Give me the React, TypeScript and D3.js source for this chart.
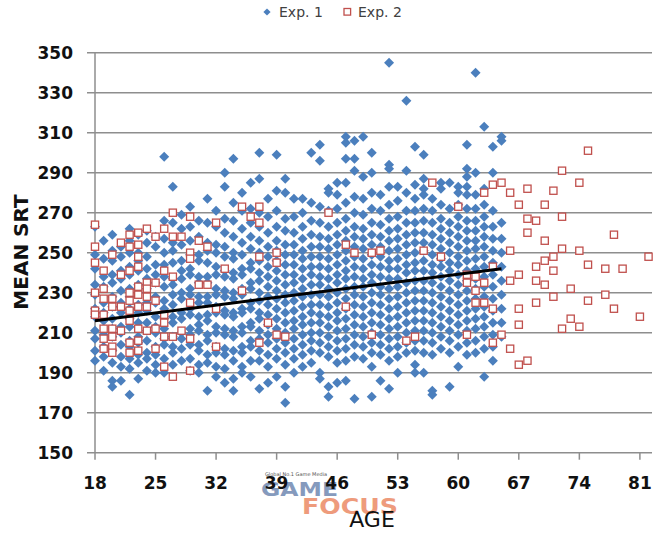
import React from 'react';
import * as d3 from 'd3';

// axis ticks
const xTicks = [18, 25, 32, 39, 46, 53, 60, 67, 74, 81];
const yTicks = [150, 170, 190, 210, 230, 250, 270, 290, 310, 330, 350];

// Exp. 1 : one row of mean SRT values per age
const exp1Ages = [
  18, 19, 20, 21, 22, 23, 24, 25, 26, 27, 28, 29, 30, 31, 32, 33,
  34, 35, 36, 37, 38, 39, 40, 41, 42, 43, 44, 45, 46, 47, 48, 49,
  50, 51, 52, 53, 54, 55, 56, 57, 58, 59, 60, 61, 62, 63, 64, 65,
];
const exp1Srt = [
  [263, 249, 242, 234, 229, 222, 218, 211, 207, 201, 196],
  [256, 247, 238, 233, 225, 220, 216, 209, 203, 198, 191],
  [259, 251, 246, 239, 235, 228, 223, 217, 212, 208, 201, 195, 186, 183],
  [253, 248, 241, 237, 231, 225, 220, 213, 210, 204, 198, 193, 186],
  [262, 256, 250, 243, 239, 232, 228, 222, 217, 213, 206, 203, 197, 192, 179],
  [259, 250, 246, 241, 234, 230, 224, 220, 215, 208, 205, 199, 195, 187],
  [261, 255, 248, 242, 237, 232, 225, 221, 215, 211, 206, 200, 197, 191],
  [258, 253, 244, 239, 235, 228, 225, 218, 213, 210, 203, 199, 194, 190],
  [298, 266, 257, 250, 244, 238, 233, 226, 222, 217, 212, 207, 204, 197, 190],
  [283, 265, 255, 251, 245, 237, 234, 229, 224, 218, 215, 208, 203, 200, 194],
  [269, 262, 254, 246, 241, 237, 230, 227, 220, 217, 210, 207, 202, 196],
  [273, 263, 256, 249, 242, 239, 232, 229, 222, 219, 212, 209, 204, 197, 191],
  [266, 258, 249, 246, 238, 235, 228, 225, 218, 214, 211, 204, 201, 194, 190],
  [277, 265, 255, 251, 245, 238, 235, 228, 225, 219, 216, 209, 206, 199, 195, 181],
  [271, 263, 254, 250, 243, 239, 232, 229, 223, 220, 213, 210, 203, 200, 193, 188],
  [290, 283, 267, 260, 253, 248, 241, 238, 231, 228, 221, 219, 212, 209, 202, 199, 192, 185],
  [297, 275, 266, 258, 250, 247, 240, 237, 230, 227, 220, 218, 211, 208, 201, 196, 187, 181],
  [280, 271, 262, 255, 249, 242, 239, 232, 229, 222, 220, 213, 210, 203, 200, 193, 190],
  [285, 272, 265, 258, 252, 245, 242, 235, 232, 225, 222, 215, 213, 206, 203, 196, 188],
  [300, 287, 270, 263, 256, 250, 246, 240, 236, 230, 226, 220, 217, 211, 207, 201, 196, 182],
  [277, 268, 260, 253, 248, 243, 238, 233, 228, 224, 219, 214, 209, 205, 199, 193, 185],
  [299, 281, 271, 263, 256, 251, 246, 241, 236, 231, 227, 222, 217, 212, 207, 202, 197, 188],
  [287, 280, 267, 261, 254, 249, 244, 239, 234, 229, 225, 220, 215, 210, 205, 200, 194, 183, 175],
  [277, 268, 260, 254, 249, 244, 239, 235, 230, 226, 221, 216, 212, 207, 202, 197, 190],
  [277, 270, 263, 257, 251, 247, 242, 237, 232, 228, 223, 218, 214, 209, 204, 199, 193],
  [300, 275, 266, 259, 253, 248, 243, 239, 234, 229, 224, 220, 215, 210, 206, 201, 195],
  [304, 296, 273, 265, 258, 253, 248, 243, 238, 234, 229, 224, 219, 215, 210, 205, 200, 190, 187],
  [282, 280, 271, 263, 257, 252, 247, 242, 237, 232, 228, 223, 218, 213, 208, 203, 198, 183, 178],
  [285, 279, 272, 265, 259, 254, 249, 244, 239, 235, 230, 225, 220, 216, 211, 206, 201, 195, 185],
  [308, 305, 297, 285, 275, 267, 261, 256, 251, 246, 241, 237, 232, 227, 222, 217, 212, 207, 202, 196, 186],
  [306, 297, 291, 278, 270, 263, 258, 253, 248, 243, 238, 233, 229, 224, 219, 214, 209, 204, 198, 177],
  [308, 288, 277, 269, 262, 257, 252, 247, 242, 237, 233, 228, 223, 218, 213, 208, 203, 197],
  [300, 290, 280, 272, 265, 259, 254, 249, 244, 239, 235, 230, 225, 220, 215, 210, 205, 200, 193, 178],
  [279, 271, 264, 258, 253, 248, 243, 238, 233, 229, 224, 219, 214, 209, 204, 199, 186],
  [345, 294, 292, 283, 274, 267, 261, 256, 251, 246, 242, 237, 232, 227, 222, 217, 212, 207, 202, 196, 182],
  [283, 276, 268, 262, 257, 252, 247, 242, 237, 233, 228, 223, 218, 213, 208, 203, 198, 190],
  [326, 291, 280, 271, 265, 259, 254, 249, 244, 240, 235, 230, 225, 220, 215, 210, 205, 200],
  [303, 284, 277, 271, 265, 260, 255, 250, 245, 241, 236, 231, 226, 221, 216, 211, 206, 201, 194, 190],
  [299, 287, 282, 279, 272, 266, 260, 255, 251, 246, 241, 236, 231, 226, 221, 216, 211, 206, 200, 190],
  [277, 271, 265, 259, 254, 249, 244, 240, 235, 230, 225, 220, 215, 210, 205, 199, 181, 179],
  [285, 282, 274, 267, 262, 257, 252, 247, 243, 238, 233, 228, 223, 218, 213, 208, 202],
  [285, 272, 265, 260, 255, 250, 245, 241, 236, 231, 226, 221, 216, 211, 206, 200, 183],
  [283, 280, 274, 268, 263, 258, 253, 248, 244, 239, 234, 229, 224, 219, 214, 209, 203, 193],
  [304, 292, 288, 283, 279, 272, 266, 261, 256, 251, 246, 241, 236, 231, 226, 221, 216, 211, 205, 199],
  [340, 290, 279, 272, 266, 261, 256, 252, 247, 242, 237, 232, 227, 222, 217, 212, 206, 200],
  [313, 282, 274, 268, 263, 258, 253, 248, 243, 238, 233, 228, 223, 218, 213, 208, 202, 188],
  [303, 290, 271, 263, 257, 251, 245, 239, 233, 227, 221, 215, 209, 203, 196],
  [308, 306, 265, 257, 250, 243, 236, 229, 222, 215, 208],
];

// Exp. 2 : one row per age
const exp2Ages = [
  18, 19, 20, 21, 22, 23, 24, 25, 26, 27, 28, 29, 30, 31, 32, 33, 35, 36, 37, 38,
  39, 40, 45, 47, 48, 50, 51, 54, 55, 56, 57, 58, 60, 61, 62, 63, 64, 65, 66, 67,
  68, 69, 70, 71, 72, 73, 74, 75, 77, 78, 79, 81, 82,
];
const exp2Srt = [
  [264, 253, 245, 230, 221, 219],
  [241, 232, 227, 219, 212, 207, 202],
  [249, 227, 223, 212, 208, 203, 200],
  [255, 239, 223, 211],
  [259, 253, 241, 230, 226, 221, 216, 205, 200],
  [260, 254, 248, 243, 233, 229, 223, 212, 206, 201],
  [262, 235, 232, 228, 223, 211],
  [258, 235, 226, 212, 202],
  [262, 241, 219, 215, 208, 193],
  [270, 258, 238, 208, 188],
  [258, 211],
  [268, 250, 247, 225, 207, 191],
  [256, 234],
  [253, 234],
  [265, 222, 203],
  [242],
  [273, 231],
  [268],
  [273, 265, 248, 205],
  [215],
  [250, 245, 209],
  [208],
  [270],
  [254, 223],
  [250],
  [250, 209],
  [251],
  [206],
  [208],
  [251],
  [285],
  [248],
  [273],
  [239, 235, 209],
  [238, 231, 225],
  [280, 235, 225],
  [284, 243, 222, 205],
  [285, 209],
  [280, 251, 236, 202],
  [274, 239, 222, 214, 194],
  [282, 267, 260, 196],
  [266, 243, 236, 225],
  [274, 256, 246, 234],
  [281, 248, 241, 228],
  [291, 268, 252, 212],
  [232, 217],
  [285, 251, 213],
  [301, 244, 226],
  [242, 229],
  [259, 222],
  [242],
  [218],
  [248],
];

// linear trend for Exp. 1
const trendAges = [18, 65];
const trendSrt = [216, 242];

const BLUE = '#4b7fbd';
const RED = '#c0504d';
const GRID = '#8e8e8e';

function flatten(ages: number[], rows: number[][]) {
  const out: { age: number; srt: number }[] = [];
  ages.forEach((a, i) => rows[i].forEach(v => out.push({ age: a, srt: v })));
  return out;
}

function SrtScatter() {
  const ref = React.useRef<SVGSVGElement | null>(null);

  React.useEffect(() => {
    const svg = d3.select(ref.current);
    svg.selectAll('*').remove();

    const x = d3.scaleLinear().domain([18, 82.4]).range([95, 652]);
    const y = d3.scaleLinear().domain([150, 350]).range([452.7, 52.7]);

    // gridlines (150 one doubles as the x axis)
    svg.append('g')
      .selectAll('line')
      .data(yTicks)
      .enter()
      .append('line')
      .attr('x1', 87)
      .attr('x2', 652)
      .attr('y1', d => y(d))
      .attr('y2', d => y(d))
      .attr('stroke', GRID)
      .attr('stroke-width', 1.5);

    // y axis line
    svg.append('line')
      .attr('x1', x(18)).attr('x2', x(18))
      .attr('y1', y(350)).attr('y2', y(150))
      .attr('stroke', GRID)
      .attr('stroke-width', 1.5);

    // x tick marks
    svg.append('g')
      .selectAll('line')
      .data(xTicks)
      .enter()
      .append('line')
      .attr('x1', d => x(d))
      .attr('x2', d => x(d))
      .attr('y1', y(150))
      .attr('y2', y(150) + 7)
      .attr('stroke', GRID)
      .attr('stroke-width', 1.5);

    const labelFont = "'DejaVu Sans', sans-serif";

    // watermark, sits behind the tick labels
    const wm = svg.append('g').attr('opacity', 0.85);
    wm.append('text')
      .attr('x', 265).attr('y', 476)
      .attr('font-family', labelFont)
      .attr('font-size', 5)
      .attr('fill', '#333')
      .text('Global No.1 Game Media');
    wm.append('text')
      .attr('x', 261).attr('y', 496)
      .attr('font-family', labelFont)
      .attr('font-weight', 'bold')
      .attr('font-size', 20)
      .attr('textLength', 77)
      .attr('lengthAdjust', 'spacingAndGlyphs')
      .attr('fill', '#7089b2')
      .text('GAME');
    wm.append('text')
      .attr('x', 302).attr('y', 514)
      .attr('font-family', labelFont)
      .attr('font-weight', 'bold')
      .attr('font-size', 21)
      .attr('textLength', 96)
      .attr('lengthAdjust', 'spacingAndGlyphs')
      .attr('fill', '#ec8a66')
      .text('FOCUS');

    svg.append('g')
      .selectAll('text')
      .data(yTicks)
      .enter()
      .append('text')
      .attr('x', 73)
      .attr('y', d => y(d) + 6)
      .attr('text-anchor', 'end')
      .attr('font-family', labelFont)
      .attr('font-weight', 'bold')
      .attr('font-size', 17)
      .attr('fill', '#111')
      .text(d => d);

    svg.append('g')
      .selectAll('text')
      .data(xTicks)
      .enter()
      .append('text')
      .attr('x', d => x(d))
      .attr('y', 489)
      .attr('text-anchor', 'middle')
      .attr('font-family', labelFont)
      .attr('font-weight', 'bold')
      .attr('font-size', 17)
      .attr('fill', '#111')
      .text(d => d);

    // Exp. 1 diamonds
    const diamond = d3.symbol().type(d3.symbolSquare).size(50)();
    svg.append('g')
      .selectAll('path')
      .data(flatten(exp1Ages, exp1Srt))
      .enter()
      .append('path')
      .attr('d', diamond)
      .attr('transform', d => `translate(${x(d.age)},${y(d.srt)}) rotate(45)`)
      .attr('fill', BLUE);

    // Exp. 2 squares
    svg.append('g')
      .selectAll('rect')
      .data(flatten(exp2Ages, exp2Srt))
      .enter()
      .append('rect')
      .attr('x', d => x(d.age) - 3.6)
      .attr('y', d => y(d.srt) - 3.6)
      .attr('width', 7.2)
      .attr('height', 7.2)
      .attr('fill', '#fff')
      .attr('stroke', RED)
      .attr('stroke-width', 1.3);

    // trend line
    const line = d3.line<number>()
      .x((d, i) => x(trendAges[i]))
      .y(d => y(d));
    svg.append('path')
      .attr('d', line(trendSrt))
      .attr('fill', 'none')
      .attr('stroke', '#000')
      .attr('stroke-width', 3);

    // axis titles
    svg.append('text')
      .attr('transform', 'translate(28,252) rotate(-90)')
      .attr('text-anchor', 'middle')
      .attr('font-family', labelFont)
      .attr('font-weight', 'bold')
      .attr('font-size', 20)
      .attr('fill', '#111')
      .text('MEAN SRT');

    svg.append('text')
      .attr('x', 372)
      .attr('y', 527)
      .attr('text-anchor', 'middle')
      .attr('font-family', labelFont)
      .attr('font-size', 22)
      .attr('fill', '#111')
      .text('AGE');

    // legend
    const legend = svg.append('g').attr('font-family', labelFont).attr('font-size', 14).attr('fill', '#404040');
    legend.append('path')
      .attr('d', d3.symbol().type(d3.symbolSquare).size(26)())
      .attr('transform', 'translate(267,12) rotate(45)')
      .attr('fill', BLUE);
    legend.append('text').attr('x', 279).attr('y', 17).text('Exp. 1');
    legend.append('rect')
      .attr('x', 344).attr('y', 8.5)
      .attr('width', 6.6).attr('height', 6.6)
      .attr('fill', '#fff')
      .attr('stroke', RED)
      .attr('stroke-width', 1.3);
    legend.append('text').attr('x', 358).attr('y', 17).text('Exp. 2');
  }, []);

  return (
    <svg
      ref={ref}
      width={660}
      height={533}
      style={{ position: 'absolute', left: 0, top: 0, background: '#fff' }}
    />
  );
}

export default function App() {
  return <SrtScatter />;
}
